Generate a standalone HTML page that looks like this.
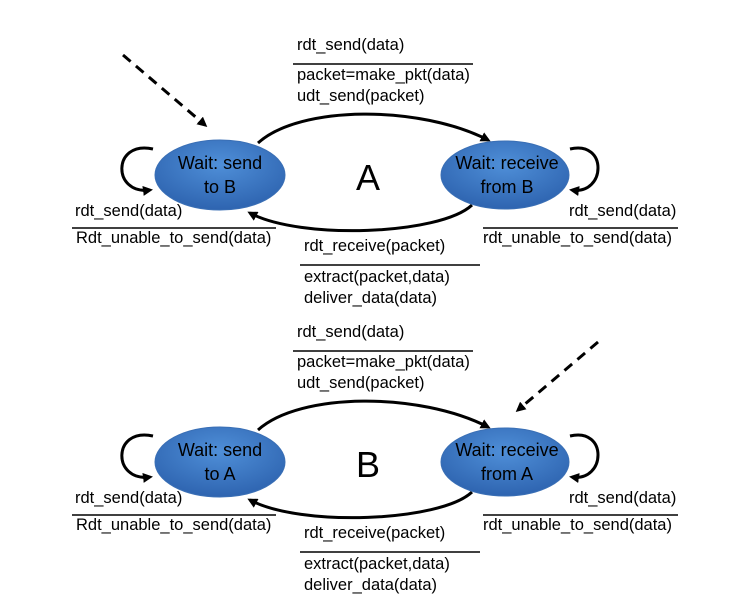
<!DOCTYPE html><html><head><style>body{margin:0;background:#fff}svg text{font-family:"Liberation Sans",sans-serif;font-size:16.5px;fill:#000}svg text.e{font-size:18px}</style></head><body>
<svg width="754" height="608" viewBox="0 0 754 608" xmlns="http://www.w3.org/2000/svg">
<defs>
<radialGradient id="g" cx="50%" cy="35%" r="65%"><stop offset="0" stop-color="#4f8fd8"/><stop offset="1" stop-color="#2e64b0"/></radialGradient>
<marker id="a" markerWidth="10" markerHeight="10" refX="7" refY="5" orient="auto" markerUnits="userSpaceOnUse"><path d="M0,0 L10,5 L0,10 z" fill="#000"/></marker>
</defs>
<g id="top">
<path d="M258,143 C300,105 420,105 488,140" fill="none" stroke="#000" stroke-width="3" marker-end="url(#a)"/>
<path d="M472,205 C440,235 300,240 250,213" fill="none" stroke="#000" stroke-width="3" marker-end="url(#a)"/>
<path d="M153,149 C112,140 112,195 150,190" fill="none" stroke="#000" stroke-width="3" marker-end="url(#a)"/>
<path d="M570,149 C608,140 606,195 572,190" fill="none" stroke="#000" stroke-width="3" marker-end="url(#a)"/>
<ellipse cx="220" cy="175" rx="65" ry="35" fill="url(#g)" stroke="#3a6fb5"/>
<ellipse cx="505" cy="175" rx="64" ry="34" fill="url(#g)" stroke="#3a6fb5"/>
<text class="e" x="220" y="169" text-anchor="middle">Wait: send</text>
<text class="e" x="507" y="169" text-anchor="middle">Wait: receive</text>
<text x="368" y="190" text-anchor="middle" style="font-size:36px">A</text>
<text x="297" y="50">rdt_send(data)</text>
<line x1="293" y1="64" x2="473" y2="64" stroke="#000" stroke-width="1.5"/>
<text x="297" y="80">packet=make_pkt(data)</text>
<text x="297" y="101">udt_send(packet)</text>
<text x="75" y="216">rdt_send(data)</text>
<line x1="72" y1="228" x2="276" y2="228" stroke="#000" stroke-width="1.5"/>
<text x="76" y="243">Rdt_unable_to_send(data)</text>
<text x="569" y="216">rdt_send(data)</text>
<line x1="483" y1="228" x2="678" y2="228" stroke="#000" stroke-width="1.5"/>
<text x="483" y="243">rdt_unable_to_send(data)</text>
<text x="304" y="251">rdt_receive(packet)</text>
<line x1="300" y1="265" x2="480" y2="265" stroke="#000" stroke-width="1.5"/>
<text x="304" y="282">extract(packet,data)</text>
<text x="304" y="303">deliver_data(data)</text>
</g>
<text class="e" x="220" y="193" text-anchor="middle">to B</text>
<text class="e" x="507" y="193" text-anchor="middle">from B</text>
<line x1="123" y1="55" x2="205" y2="125" stroke="#000" stroke-width="3" stroke-dasharray="10,7" marker-end="url(#a)"/>
<use href="#top" y="287"/>
<text class="e" x="220" y="480" text-anchor="middle">to A</text>
<text class="e" x="507" y="480" text-anchor="middle">from A</text>
<rect x="350" y="440" width="40" height="40" fill="#fff"/>
<text x="368" y="477" text-anchor="middle" style="font-size:36px">B</text>
<line x1="598" y1="342" x2="518" y2="410" stroke="#000" stroke-width="3" stroke-dasharray="10,7" marker-end="url(#a)"/>
</svg></body></html>
